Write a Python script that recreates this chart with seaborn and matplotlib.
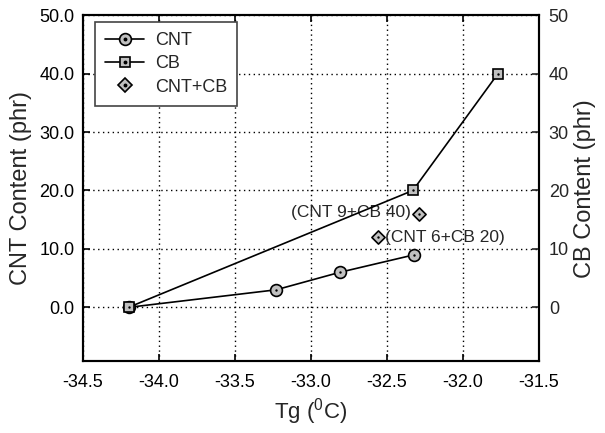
import matplotlib
matplotlib.use("Agg")
import matplotlib.pyplot as plt
import seaborn as sns
import pandas as pd
from matplotlib.lines import Line2D
from matplotlib.ticker import FormatStrFormatter

# ---- data ----
cnt_tg = [-34.2, -33.23, -32.81, -32.32]
cnt_content = [0, 3, 6, 9]
cb_tg = [-34.2, -32.33, -31.77]
cb_content = [0, 20, 40]
mix_tg = [-32.29, -32.56]
mix_y = [16, 12]
mix_labels = ["(CNT 9+CB 40)", "(CNT 6+CB 20)"]
x_ticks = [-34.5, -34.0, -33.5, -33.0, -32.5, -32.0, -31.5]
y_ticks = [0, 10, 20, 30, 40, 50]

sns.set_theme(style="ticks")
plt.rcParams["font.family"] = ["Liberation Sans", "DejaVu Sans"]
plt.rcParams["mathtext.fontset"] = "custom"
plt.rcParams["mathtext.rm"] = "Liberation Sans"

fig = plt.figure(figsize=(6.05, 4.33), dpi=100)
ax = fig.add_axes([0.137, 0.166, 0.754, 0.799])
ax2 = ax.twinx()

gray = "#c0c0c0"
df_cnt = pd.DataFrame({"x": cnt_tg, "y": cnt_content})
df_cb = pd.DataFrame({"x": cb_tg, "y": cb_content})
df_mix = pd.DataFrame({"x": mix_tg, "y": mix_y})

sns.lineplot(data=df_cnt, x="x", y="y", ax=ax, sort=False, color="black", lw=1.2,
             marker="o", markersize=8.5, markerfacecolor=gray, markeredgecolor="black",
             markeredgewidth=1.2, zorder=3)
sns.lineplot(data=df_cb, x="x", y="y", ax=ax2, sort=False, color="black", lw=1.2,
             marker="s", markersize=7, markerfacecolor=gray, markeredgecolor="black",
             markeredgewidth=1.2, zorder=3)
sns.scatterplot(data=df_mix, x="x", y="y", ax=ax, marker="D", s=45, color=gray,
                edgecolor="black", linewidth=1.2, zorder=3)
# center dots
for d, a in [(df_cnt, ax), (df_cb, ax2), (df_mix, ax)]:
    sns.scatterplot(data=d, x="x", y="y", ax=a, marker="o", s=3, color="black",
                    edgecolor="black", linewidth=0, zorder=4)

# annotations
ax.annotate(mix_labels[0], (mix_tg[0], mix_y[0]), xytext=(-6, 1), textcoords="offset points",
            ha="right", va="center", fontsize=12.5)
ax.annotate(mix_labels[1], (mix_tg[1], mix_y[1]), xytext=(5, 0), textcoords="offset points",
            ha="left", va="center", fontsize=12.5)

for a in (ax, ax2):
    a.set_xlim(-34.5, -31.5)
    a.set_ylim(-9.2, 50)
    a.set_yticks(y_ticks)
    for s in a.spines.values():
        s.set_linewidth(1.5)
        s.set_color("black")
ax.set_xticks(x_ticks)
ax.xaxis.set_major_formatter(FormatStrFormatter("%.1f"))
ax.yaxis.set_major_formatter(FormatStrFormatter("%.1f"))
ax2.yaxis.set_major_formatter(FormatStrFormatter("%d"))
ax.tick_params(axis="x", direction="in", length=5, width=1.2, labelsize=13,
               top=True, colors="black", pad=9)
ax.tick_params(axis="y", direction="in", length=5, width=1.2, labelsize=13,
               right=False, colors="black", pad=6)
ax2.tick_params(axis="y", direction="in", length=5, width=1.2, labelsize=13, pad=7)
ax.grid(True, linestyle=(0, (1, 2.5)), color="black", linewidth=1)
ax.set_axisbelow(True)

ax.set_xlabel("Tg ($\\mathregular{^0}$C)", fontsize=16, labelpad=4)
ax.set_ylabel("CNT Content (phr)", fontsize=17, labelpad=5)
ax2.set_ylabel("CB Content (phr)", fontsize=17, labelpad=4)

# legend
h_cnt = (Line2D([], [], color="black", lw=1.2, marker="o", markersize=8.5, markerfacecolor=gray,
                markeredgecolor="black", markeredgewidth=1.2),
         Line2D([], [], ls="none", marker="o", markersize=1.8, color="black"))
h_cb = (Line2D([], [], color="black", lw=1.2, marker="s", markersize=7, markerfacecolor=gray,
               markeredgecolor="black", markeredgewidth=1.2),
        Line2D([], [], ls="none", marker="o", markersize=1.8, color="black"))
h_mix = (Line2D([], [], ls="none", marker="D", markersize=7.5, markerfacecolor=gray,
                markeredgecolor="black", markeredgewidth=1.2),
         Line2D([], [], ls="none", marker="o", markersize=1.8, color="black"))
leg = ax2.legend([h_cnt, h_cb, h_mix], ["CNT", "CB", "CNT+CB"], loc="upper left",
                 bbox_to_anchor=(0.026, 0.98), borderaxespad=0, fontsize=13, frameon=True,
                 fancybox=False, edgecolor="#444444", framealpha=1, handlelength=2.2,
                 handletextpad=0.6, borderpad=0.55, labelspacing=0.35)
leg.get_frame().set_linewidth(1.2)

fig.savefig("out.png", dpi=100)
